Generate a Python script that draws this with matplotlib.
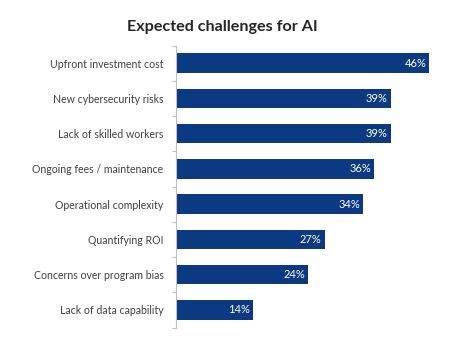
import matplotlib as mpl
import matplotlib.pyplot as plt
import numpy as np

categories = [
    "Upfront investment cost",
    "New cybersecurity risks",
    "Lack of skilled workers",
    "Ongoing fees / maintenance",
    "Operational complexity",
    "Quantifying ROI",
    "Concerns over program bias",
    "Lack of data capability",
]
values = [46, 39, 39, 36, 34, 27, 24, 14]
value_labels = ["46%", "39%", "39%", "36%", "34%", "27%", "24%", "14%"]

mpl.rcParams["font.family"] = ["Lato", "DejaVu Sans"]

bar_color = "#0B3A82"
spine_color = "#BFBFBF"

W, H = 450, 337
fig = plt.figure(figsize=(W / 100, H / 100), dpi=100)
ax = fig.add_axes([176 / W, 1 - 327.5 / H, 264 / W, (327.5 - 45.5) / H])

y = np.arange(len(categories))
ax.barh(y, values, height=0.56, color=bar_color)
ax.set_ylim(len(categories) - 0.5, -0.5)
ax.set_xlim(0, 48)

for yi, v, lab in zip(y, values, value_labels):
    ax.text(v - 0.5, yi, lab, ha="right", va="center", color="white", fontsize=8)

ax.set_yticks(y)
ax.set_yticklabels(categories, fontsize=7.6, color="#404040")
ax.tick_params(axis="y", which="major", length=0, pad=9)
ax.set_yticks(np.arange(-0.5, len(categories), 1), minor=True)
ax.tick_params(axis="y", which="minor", length=3, color=spine_color, width=0.8)
ax.set_xticks([])

for side in ("top", "right", "bottom"):
    ax.spines[side].set_visible(False)
ax.spines["left"].set_color(spine_color)
ax.spines["left"].set_linewidth(0.8)

fig.text(222 / W, 1 - 27 / H, "Expected challenges for AI", ha="center", va="center",
         fontsize=11.6, fontweight="bold", color="#262626")

fig.savefig("out.png", dpi=100)
